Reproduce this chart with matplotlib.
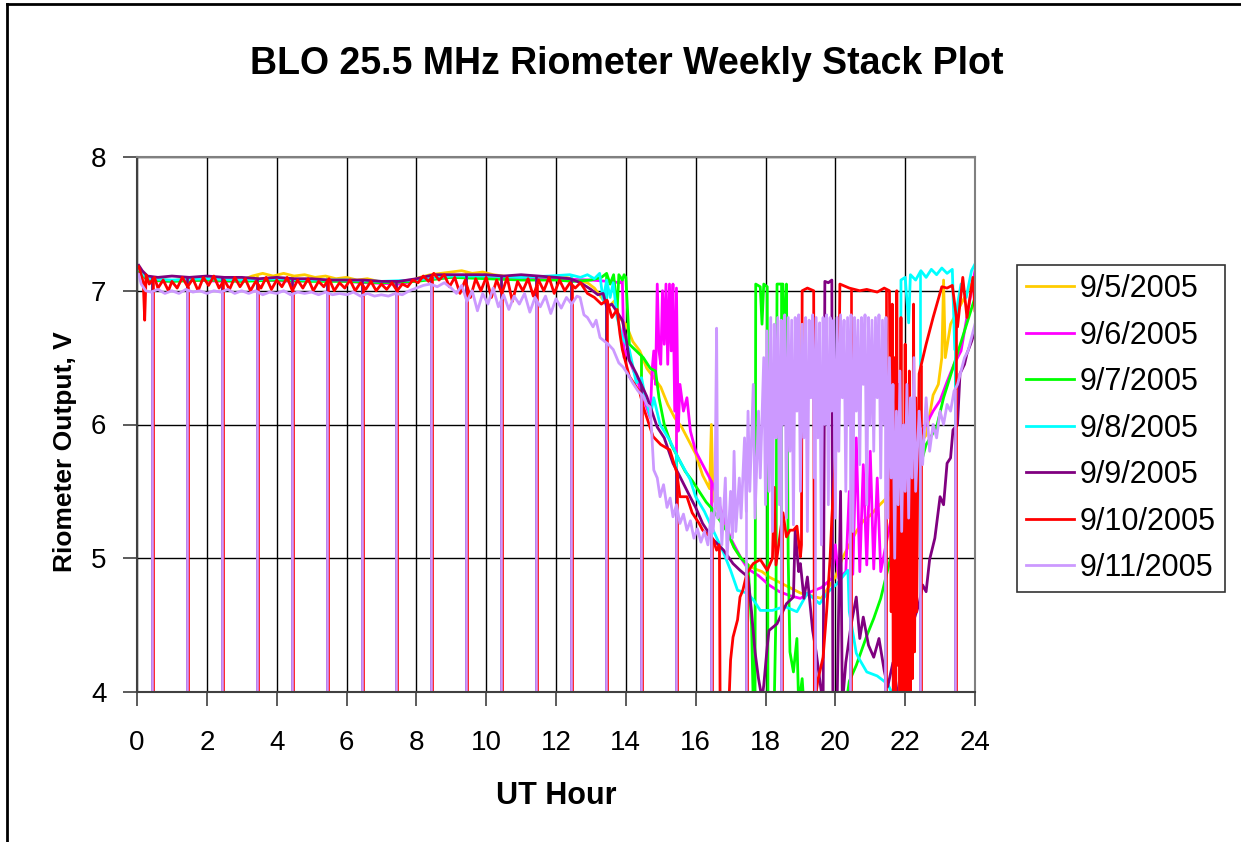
import numpy as np
import matplotlib
matplotlib.use("Agg")
import matplotlib.pyplot as plt
from matplotlib.lines import Line2D

plt.rcParams['font.family'] = ['Liberation Sans', 'DejaVu Sans']

# Riometer output (V) vs UT hour, one list of (hour, volts) per day
D0905 = [(0.05,7.16),(0.2,7.10),(0.4,7.08),(0.7,7.09),(1.0,7.07),(1.3,7.09),(1.6,7.08),(2.0,7.09),(2.3,7.07),
         (2.7,7.09),(3.0,7.08),(3.3,7.11),(3.6,7.13),(3.9,7.11),(4.2,7.13),(4.5,7.11),(4.8,7.12),(5.1,7.10),
         (5.4,7.11),(5.7,7.09),(6.0,7.10),(6.3,7.08),(6.6,7.09),(6.9,7.07),(7.2,7.06),(7.5,7.06),(7.8,7.07),
         (8.1,7.10),(8.4,7.12),(8.7,7.13),(9.0,7.14),(9.3,7.15),(9.6,7.13),(9.9,7.14),(10.2,7.12),(10.5,7.11),
         (10.8,7.10),(11.1,7.11),(11.4,7.09),(11.7,7.10),(12.0,7.09),(12.3,7.10),(12.6,7.08),(12.9,7.06),
         (13.1,7.02),(13.3,6.95),(13.5,6.88),(13.7,6.93),(13.8,6.80),(14.0,6.75),(14.2,6.62),(14.4,6.55),
         (14.6,6.42),(14.8,6.35),(15.0,6.28),(15.2,6.15),(15.4,6.05),(15.6,5.98),(15.8,5.88),(16.0,5.78),
         (16.2,5.62),(16.4,5.52),(16.45,6.0),(16.5,5.45),(16.7,5.32),(16.9,5.2),(17.1,5.08),(17.3,5.0),
         (17.5,4.95),(17.7,4.92),(17.9,4.9),(18.1,4.86),(18.4,4.82),(18.7,4.78),(19.0,4.74),(19.3,4.72),
         (19.6,4.7),(19.8,4.78),(20.0,4.86),(20.2,5.0),(20.4,5.1),(20.6,5.2),(20.8,5.28),(21.0,5.32),
         (21.2,5.38),(21.5,5.46),(21.8,5.6),(22.1,5.72),(22.4,5.85),(22.6,5.92),(22.8,6.22),(22.95,6.3),
         (23.05,6.5),(23.1,7.08),(23.15,6.5),(23.3,6.75),(23.5,6.85),(23.7,6.95),(23.9,7.05),(24.0,7.02)]

D0906 = [(0.05,7.14),(0.3,7.08),(0.8,7.07),(1.5,7.08),(2.5,7.07),(3.5,7.08),(4.5,7.07),(5.5,7.08),(6.5,7.06),
         (7.5,7.05),(8.3,7.09),(9.0,7.10),(10.0,7.10),(11.0,7.09),(12.0,7.09),(13.0,7.08),(13.5,7.07),
         (13.85,7.06),(13.9,7.08),(13.95,6.5),(14.0,6.55),(14.1,6.48),(14.3,6.35),(14.5,6.2),(14.7,6.05),
         (14.75,6.4),(14.8,6.55),(14.85,6.3),(14.9,7.05),(14.95,6.55),(15.0,6.45),(15.05,7.0),(15.1,6.6),
         (15.15,7.05),(15.2,6.45),(15.25,7.05),(15.3,6.55),(15.35,7.05),(15.4,6.1),(15.45,7.02),(15.5,5.95),
         (15.55,6.3),(15.65,6.1),(15.75,6.2),(15.85,5.95),(16.0,5.8),(16.2,5.7),(16.5,5.55),(16.8,5.3),
         (17.0,5.15),(17.3,5.0),(17.5,4.92),(17.8,4.87),(18.1,4.8),(18.4,4.75),(18.7,4.72),(19.0,4.7),
         (19.3,4.75),(19.6,4.78),(19.9,4.85),(20.0,5.1),(20.1,4.85),(20.3,4.9),(20.4,5.5),(20.5,4.88),
         (20.6,5.9),(20.7,4.9),(20.8,5.7),(20.9,4.95),(21.0,5.8),(21.1,4.92),(21.2,5.6),(21.3,4.9),
         (21.45,5.1),(21.6,5.3),(21.8,5.45),(22.0,5.6),(22.2,5.75),(22.4,5.9),(22.6,6.0),(22.8,6.1),
         (23.0,6.18),(23.2,6.32),(23.4,6.45),(23.6,6.55),(23.8,6.85),(24.0,7.15)]

D0907 = [(0.05,7.15),(0.3,7.08),(1.0,7.07),(2.0,7.08),(3.0,7.07),(4.0,7.08),(5.0,7.07),(6.0,7.07),(7.0,7.06),
         (8.0,7.07),(9.0,7.10),(10.0,7.09),(11.0,7.08),(12.0,7.08),(12.5,7.07),(13.0,7.08),(13.3,7.10),
         (13.45,7.13),(13.55,7.05),(13.65,7.12),(13.75,6.85),(13.8,7.12),(13.9,7.08),(13.95,7.12),(14.0,7.1),
         (14.1,6.6),(14.3,6.55),(14.5,6.5),(14.7,6.42),(14.85,6.4),(14.95,6.2),(15.1,6.0),(15.3,5.85),
         (15.5,5.75),(15.7,5.65),(15.9,5.58),(16.1,5.5),(16.3,5.42),(16.5,5.36),(16.7,5.28),(16.9,5.2),
         (17.1,5.08),(17.3,5.0),(17.5,4.95),(17.6,4.5),(17.65,3.9),(17.7,3.9),(17.72,7.05),(17.85,7.03),
         (17.9,6.75),(17.95,7.05),(18.05,7.03),(18.07,3.9),(18.25,3.9),(18.3,4.6),(18.33,7.05),(18.5,7.05),
         (18.55,6.5),(18.6,7.05),(18.65,5.0),(18.7,4.3),(18.8,4.15),(18.9,4.4),(18.95,3.9),(19.05,4.1),
         (19.1,3.9),(20.3,3.9),(20.4,4.08),(20.6,4.2),(20.9,4.42),(21.1,4.55),(21.3,4.7),(21.6,5.02),
         (21.8,5.2),(22.0,5.42),(22.2,5.58),(22.4,5.66),(22.6,5.85),(22.9,5.98),(23.1,6.2),(23.4,6.45),
         (23.7,6.7),(24.0,6.95)]

D0908 = [(0.05,7.16),(0.3,7.09),(1.0,7.08),(2.0,7.09),(3.0,7.08),(4.0,7.09),(5.0,7.08),(6.0,7.08),(7.0,7.07),
         (8.0,7.08),(9.0,7.11),(10.0,7.11),(11.0,7.10),(11.8,7.11),(12.4,7.12),(12.7,7.10),(12.9,7.12),
         (13.1,7.09),(13.25,7.13),(13.35,6.93),(13.45,7.08),(13.55,6.95),(13.64,7.06),(13.75,6.8),(13.9,6.65),
         (14.1,6.56),(14.3,6.31),(14.45,6.35),(14.55,6.21),(14.7,6.06),(14.8,6.2),(14.98,6.0),(15.26,5.88),
         (15.5,5.75),(15.84,5.59),(16.0,5.46),(16.25,5.35),(16.5,5.21),(16.8,5.04),(17.0,4.91),(17.2,4.76),
         (17.47,4.74),(17.65,4.69),(17.85,4.61),(18.2,4.61),(18.55,4.64),(18.9,4.6),(19.2,4.74),(19.55,4.66),
         (19.8,4.75),(20.05,4.81),(20.36,4.91),(20.4,4.6),(20.6,4.29),(20.7,4.24),(20.9,4.15),(21.2,4.12),
         (21.5,4.06),(21.7,3.95),(21.85,3.9),(21.88,7.08),(22.0,7.1),(22.1,6.76),(22.15,7.12),(22.3,7.08),
         (22.45,7.15),(22.6,7.1),(22.75,7.16),(22.9,7.12),(23.05,7.17),(23.2,7.13),(23.35,7.16),(23.42,6.56),
         (23.5,6.9),(23.6,7.05),(23.75,6.95),(23.9,7.15),(24.0,7.2)]

D0909 = [(0.05,7.19),(0.15,7.15),(0.3,7.11),(0.6,7.10),(1.0,7.11),(1.5,7.10),(2.0,7.11),(2.5,7.10),(3.0,7.10),
         (3.5,7.09),(4.0,7.10),(4.5,7.09),(5.0,7.09),(5.5,7.08),(6.0,7.08),(6.5,7.08),(7.0,7.07),(7.5,7.07),
         (8.0,7.09),(8.5,7.12),(9.0,7.12),(9.5,7.12),(10.0,7.12),(10.5,7.11),(11.0,7.12),(11.5,7.11),
         (12.0,7.10),(12.4,7.09),(12.7,7.06),(13.0,7.01),(13.2,6.97),(13.35,6.98),(13.45,6.88),(13.6,6.9),
         (13.75,6.84),(13.9,6.78),(14.0,6.66),(14.1,6.48),(14.3,6.38),(14.6,6.21),(14.9,5.98),(15.1,5.9),
         (15.35,5.71),(15.55,5.61),(15.84,5.46),(16.0,5.38),(16.2,5.26),(16.5,5.14),(16.8,5.06),(17.07,4.96),
         (17.27,4.91),(17.5,4.86),(17.6,4.6),(17.7,4.3),(17.8,4.1),(17.9,3.95),(17.95,4.05),(18.05,4.34),
         (18.1,4.46),(18.33,4.51),(18.6,4.66),(18.8,4.71),(18.85,5.21),(18.95,4.9),(19.0,4.96),(19.1,4.7),
         (19.2,4.86),(19.35,4.46),(19.45,4.3),(19.6,4.0),(19.65,3.9),(19.7,7.07),(19.8,7.06),(19.9,7.08),
         (19.93,3.9),(20.05,3.9),(20.15,5.5),(20.2,3.9),(20.3,4.22),(20.45,4.5),(20.6,4.71),(20.7,4.4),
         (20.8,4.56),(20.95,4.35),(21.1,4.26),(21.25,4.4),(21.4,4.16),(21.5,4.04),(21.65,4.22),(21.8,3.95),
         (22.0,4.1),(22.2,4.5),(22.4,4.66),(22.5,4.8),(22.6,4.75),(22.7,4.99),(22.85,5.15),(23.0,5.46),
         (23.1,5.4),(23.2,5.71),(23.3,5.75),(23.37,5.96),(23.5,6.0),(23.57,6.38),(23.7,6.45),(23.77,6.53),
         (23.9,6.62),(24.0,6.7)]

D0910 = [(0.05,7.18),(0.12,7.12),(0.18,7.06),(0.22,6.78),(0.26,7.12),(0.35,7.05),(0.5,7.1),(0.6,7.02),
         (0.75,7.08),(0.9,7.0),(1.0,7.07),(1.15,7.02),(1.3,7.1),(1.45,7.03),(1.6,7.09),(1.75,7.0),(1.9,7.1),
         (2.05,7.04),(2.2,7.11),(2.35,7.02),(2.5,7.08),(2.65,7.01),(2.8,7.1),(2.95,7.03),(3.1,7.09),(3.25,7.0),
         (3.4,7.07),(3.55,7.02),(3.7,7.1),(3.85,7.01),(4.0,7.08),(4.15,7.03),(4.3,7.1),(4.45,7.0),(4.6,7.08),
         (4.75,7.02),(4.9,7.09),(5.05,7.0),(5.2,7.07),(5.35,7.03),(5.5,7.09),(5.65,7.0),(5.8,7.06),(5.95,7.02),
         (6.1,7.08),(6.25,7.0),(6.4,7.06),(6.55,7.01),(6.7,7.07),(6.85,7.0),(7.0,7.05),(7.15,7.01),(7.3,7.06),
         (7.45,7.0),(7.6,7.05),(7.75,7.03),(7.9,7.08),(8.05,7.06),(8.2,7.11),(8.35,7.07),(8.5,7.13),(8.65,7.08),
         (8.8,7.12),(8.95,7.03),(9.1,7.1),(9.25,6.98),(9.4,7.08),(9.55,6.95),(9.7,7.09),(9.85,7.0),(10.0,7.1),
         (10.15,6.95),(10.3,7.08),(10.45,6.98),(10.6,7.1),(10.75,6.92),(10.9,7.07),(11.05,7.0),(11.2,7.09),
         (11.35,6.96),(11.5,7.08),(11.65,7.0),(11.8,7.1),(11.95,6.98),(12.1,7.08),(12.25,7.0),(12.4,7.06),
         (12.55,7.02),(12.7,7.06),(12.9,6.98),(13.1,6.95),(13.3,6.9),(13.46,6.93),(13.6,6.8),(13.75,6.86),
         (13.83,6.68),(13.9,6.56),(14.1,6.36),(14.25,6.3),(14.4,6.24),(14.5,6.13),(14.63,6.03),(14.78,5.91),
         (15.0,5.85),(15.26,5.81),(15.46,5.64),(15.55,5.46),(15.75,5.46),(15.9,5.34),(16.1,5.26),(16.2,5.21),
         (16.5,5.14),(16.6,5.06),(16.68,5.1),(16.7,3.9),(16.95,3.9),(17.0,4.24),(17.07,4.41),(17.2,4.54),
         (17.27,4.71),(17.35,4.76),(17.47,4.89),(17.65,4.96),(17.85,4.99),(18.05,4.91),(18.2,5.0),(18.25,5.53),
         (18.3,4.95),(18.5,5.34),(18.6,5.16),(18.7,5.21),(18.8,5.21),(18.9,5.24),(19.0,5.01),(19.03,5.1),
         (19.05,7.0),(19.2,7.02),(19.38,7.0),(19.4,3.9),(19.5,4.09),(19.65,4.26),(19.75,4.6),(19.85,5.0),
         (19.9,5.3),(20.1,6.2),(20.13,7.05),(20.4,7.02),(20.7,7.0),(20.9,7.01),(21.2,6.99),(21.4,7.02),
         (21.55,7.0),(21.6,4.6),(21.63,6.9),(21.66,3.9),(21.7,6.5),(21.73,3.9),(21.76,7.0),(21.79,4.2),
         (21.82,6.3),(21.85,3.9),(21.88,6.8),(21.91,3.9),(21.94,6.0),(21.97,3.9),(22.0,6.6),(22.03,3.9),
         (22.06,5.8),(22.09,3.9),(22.12,6.4),(22.15,3.9),(22.18,5.9),(22.21,4.1),(22.24,6.9),(22.27,4.3),
         (22.3,6.2),(22.33,4.6),(22.36,5.6),(22.4,6.38),(22.6,6.6),(22.8,6.8),(23.05,7.03),(23.2,7.02),
         (23.35,7.04),(23.5,6.73),(23.65,7.1),(23.77,6.8),(23.94,7.1),(24.0,6.85)]

D0911 = [(0.05,7.12),(0.12,7.05),(0.25,7.0),(0.4,6.99),(0.6,7.01),(0.8,6.98),(1.0,7.0),(1.2,6.98),(1.4,7.01),
         (1.6,6.99),(1.8,7.0),(2.0,6.98),(2.2,7.0),(2.4,6.99),(2.6,7.01),(2.8,6.98),(3.0,7.0),(3.2,6.98),
         (3.4,7.0),(3.6,6.97),(3.8,6.99),(4.0,6.98),(4.2,7.0),(4.4,6.97),(4.6,6.99),(4.8,6.98),(5.0,6.99),
         (5.2,6.97),(5.4,6.99),(5.6,6.97),(5.8,6.98),(6.0,6.97),(6.2,6.99),(6.4,6.96),(6.6,6.98),(6.8,6.96),
         (7.0,6.97),(7.2,6.96),(7.4,6.98),(7.6,6.97),(7.8,7.0),(8.0,7.02),(8.2,7.04),(8.4,7.05),(8.6,7.03),
         (8.8,7.06),(9.0,7.02),(9.15,6.98),(9.3,7.04),(9.45,6.92),(9.6,7.0),(9.75,6.85),(9.9,6.98),(10.05,6.9),
         (10.2,7.02),(10.35,6.88),(10.5,6.97),(10.65,6.86),(10.8,6.96),(10.95,6.9),(11.1,6.98),(11.25,6.84),
         (11.4,6.95),(11.55,6.88),(11.7,6.96),(11.85,6.83),(12.0,6.94),(12.15,6.87),(12.3,6.95),(12.45,6.9),
         (12.6,6.96),(12.69,6.95),(12.8,6.82),(12.9,6.8),(13.06,6.73),(13.15,6.78),(13.26,6.65),(13.4,6.62),
         (13.5,6.6),(13.64,6.56),(13.8,6.46),(13.92,6.43),(14.05,6.38),(14.2,6.31),(14.35,6.25),(14.5,6.21),
         (14.6,6.15),(14.7,6.13),(14.8,5.66),(14.9,5.6),(14.98,5.46),(15.08,5.55),(15.18,5.38),(15.27,5.45),
         (15.35,5.31),(15.45,5.4),(15.55,5.26),(15.65,5.33),(15.75,5.21),(15.85,5.28),(15.95,5.15),(16.05,5.22),
         (16.15,5.12),(16.25,5.2),(16.35,5.1),(16.45,5.34),(16.5,5.2),(16.55,5.4),(16.6,6.72),(16.63,5.3),
         (16.7,5.45),(16.75,5.1),(16.85,5.6),(16.9,5.0),(17.0,5.5),(17.05,5.15),(17.1,5.8),(17.15,5.2),
         (17.25,5.6),(17.3,5.3),(17.4,5.9),(17.45,5.35),(17.5,6.1),(17.55,5.5),(17.65,6.3),(17.7,5.3),
         (17.8,6.1),(17.85,5.6),(17.95,6.5),(18.0,5.4),(18.04,6.7),(18.1,5.5),(18.15,6.8),(18.2,5.2),
         (18.25,6.75),(18.3,5.9),(18.35,6.8),(18.4,5.4),(18.45,6.78),(18.5,6.0),(18.55,6.82),(18.6,5.3),
         (18.65,6.8),(18.7,5.8),(18.75,6.78),(18.8,5.25),(18.85,6.8),(18.9,6.1),(18.95,6.82),(19.0,5.5),
         (19.05,6.75),(19.1,5.9),(19.15,6.8),(19.2,5.2),(19.25,6.78),(19.3,6.2),(19.35,6.82),(19.4,5.6),
         (19.45,6.8),(19.5,5.9),(19.55,6.76),(19.6,5.1),(19.65,6.8),(19.7,6.0),(19.75,6.82),(19.8,5.4),
         (19.85,6.8),(19.9,6.1),(19.95,6.78),(20.0,5.3),(20.05,6.8),(20.1,5.8),(20.15,6.82),(20.2,6.2),
         (20.25,6.78),(20.3,5.5),(20.35,6.8),(20.4,6.0),(20.45,6.82),(20.5,5.2),(20.55,6.8),(20.6,6.1),
         (20.65,6.78),(20.7,5.7),(20.75,6.8),(20.8,6.3),(20.85,6.82),(20.9,5.4),(20.95,6.8),(21.0,6.0),
         (21.05,6.78),(21.1,5.8),(21.15,6.8),(21.2,6.2),(21.25,6.82),(21.3,5.6),(21.35,6.78),(21.4,6.0),
         (21.45,6.8),(21.5,5.3),(21.55,6.5),(21.6,5.6),(21.65,6.3),(21.7,5.0),(21.75,6.1),(21.8,5.4),
         (21.85,6.4),(21.9,5.2),(21.95,6.0),(22.0,5.5),(22.05,6.3),(22.1,5.3),(22.15,6.2),(22.2,5.6),
         (22.25,6.5),(22.3,5.5),(22.4,6.1),(22.5,5.7),(22.6,6.2),(22.7,5.8),(22.8,6.0),(22.9,5.9),(23.0,6.1),
         (23.1,6.0),(23.2,6.15),(23.3,6.1),(23.4,6.25),(23.5,6.3),(23.6,6.4),(23.7,6.5),(23.8,6.55),
         (23.9,6.65),(24.0,6.75)]

# hourly calibration dropouts (values fall below the 4 V axis floor)
DIP_HOURS = [0.43, 1.43, 2.43, 3.43, 4.43, 5.43, 6.43, 7.43, 8.43, 9.43, 10.43, 11.43,
             12.43, 13.43, 14.43, 15.43, 16.43, 17.43, 18.43, 19.43, 20.43, 21.43, 22.43, 23.43]
RED_DIP_HOURS = [0.47, 1.46, 2.46, 3.46, 4.46, 5.46, 6.46, 7.46, 8.46, 9.46, 10.46, 11.46,
                 12.46, 13.46, 14.46, 15.46, 16.46, 17.46, 18.46, 19.46, 20.46, 21.46, 22.46, 23.46]
DIP_FLOOR = 3.9

labels = ['9/5/2005', '9/6/2005', '9/7/2005', '9/8/2005', '9/9/2005', '9/10/2005', '9/11/2005']
series = [D0905, D0906, D0907, D0908, D0909, D0910, D0911]
colors = ['#FFCC00', '#FF00FF', '#00FF00', '#00FFFF', '#800080', '#FF0000', '#CC99FF']
dips = [DIP_HOURS, DIP_HOURS, DIP_HOURS, DIP_HOURS, DIP_HOURS, RED_DIP_HOURS, DIP_HOURS]

fig = plt.figure(figsize=(12.41, 8.42), dpi=100, facecolor='white')
ax = fig.add_axes([137/1241, 150/842, 838/1241, 535/842])

handles = []
for i, (data, c, lab, dh) in enumerate(zip(series, colors, labels, dips)):
    h = np.array([p[0] for p in data])
    v = np.array([p[1] for p in data])
    ax.plot(h, v, color=c, lw=2.0, zorder=10 + i)
    tops = np.interp(dh, h, v)
    ax.vlines(dh, DIP_FLOOR, tops, color=c, lw=1.9, zorder=10 + i)
    handles.append(Line2D([], [], color=c, lw=2))

ax.set_xlim(0, 24)
ax.set_ylim(4, 8)
ax.set_xticks(range(0, 25, 2))
ax.set_yticks([4, 5, 6, 7, 8])
ax.grid(True, color='black', lw=1.0)
ax.set_axisbelow(True)
for s in ['top', 'right']:
    ax.spines[s].set_color('#808080')
for s in ['left', 'bottom']:
    ax.spines[s].set_color('#404040')
for s in ax.spines.values():
    s.set_linewidth(1.5)
    s.set_zorder(30)
ax.tick_params(axis='both', direction='out', length=10, width=1.2, color='#404040', labelsize=20)
ax.tick_params(axis='x', pad=17)
ax.tick_params(axis='y', pad=12)

ax.set_xlabel('UT Hour', fontsize=22, fontweight='bold')
ax.xaxis.set_label_coords(0.5, -0.166)
ax.set_ylabel('Riometer Output, V', fontsize=19, fontweight='bold')
ax.yaxis.set_label_coords(-0.072, 0.45)
fig.text(627/1241, 1 - 64/842, 'BLO 25.5 MHz Riometer Weekly Stack Plot',
         ha='center', va='center', fontsize=27, fontweight='bold')

leg = fig.legend(handles, labels, loc='upper left', bbox_to_anchor=(1017/1241, 1 - 265/842),
                 frameon=True, fancybox=False, edgecolor='black', borderaxespad=0,
                 fontsize=22, handlelength=1.55, handletextpad=0.2, labelspacing=0.54,
                 borderpad=0.3)
leg.get_frame().set_linewidth(1.2)

# outer chart-area border (only top and left edges are visible)
fig.add_artist(Line2D([7/1241, 1], [1 - 4/842, 1 - 4/842], color='black', lw=2, transform=fig.transFigure))
fig.add_artist(Line2D([7/1241, 7/1241], [0, 1 - 4/842], color='black', lw=2, transform=fig.transFigure))

fig.savefig('out.png', dpi=100, facecolor='white')
